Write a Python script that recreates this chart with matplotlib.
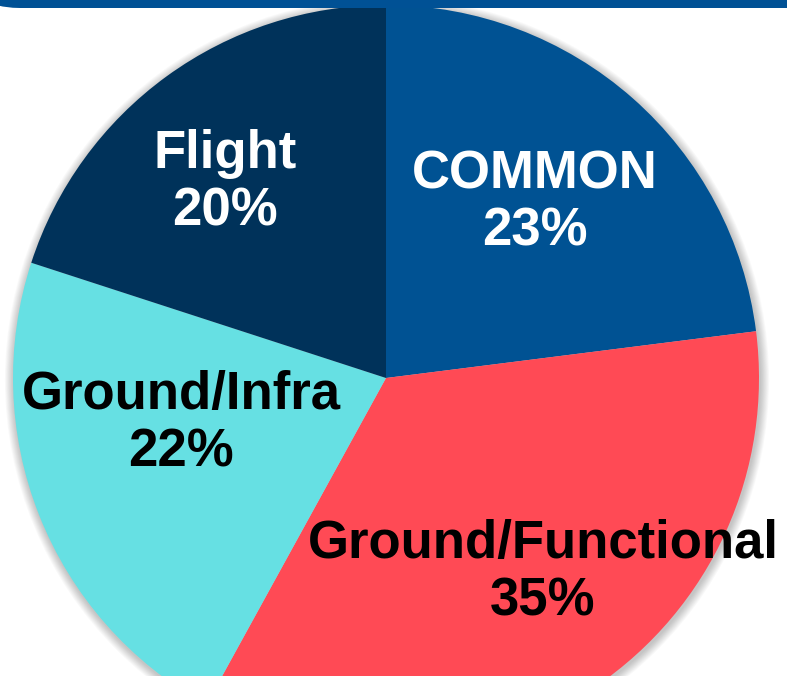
import numpy as np
import matplotlib.pyplot as plt
from matplotlib.patches import Circle, FancyBboxPatch

plt.rcParams['font.family'] = ['Liberation Sans', 'DejaVu Sans']

labels = ['COMMON', 'Ground/Functional', 'Ground/Infra', 'Flight']
shares = [23, 35, 22, 20]
colors = ['#005293', '#FF4A55', '#66E0E3', '#00325A']
text_colors = ['white', 'black', 'black', 'white']
# label centres in pixel coordinates (x, y from top)
label_pos = [(535, 203), (543, 573), (181, 424), (225, 183)]

W, H = 787, 676
fig = plt.figure(figsize=(W / 100, H / 100), dpi=100)
ax = fig.add_axes([0, 0, 1, 1])

cx, cy, r = 386, H - 378, 373

# soft shadow
for i in range(10):
    ax.add_patch(Circle((cx + 1, cy - 2), r + 1 + i * 0.9, color='black',
                        alpha=0.025, lw=0, zorder=0))

ax.pie(shares, colors=colors, startangle=90, counterclock=False,
       center=(cx, cy), radius=r, frame=True,
       wedgeprops=dict(linewidth=0))
ax.set_xlim(0, W)
ax.set_ylim(0, H)
ax.set_aspect('equal')
ax.axis('off')

for lab, s, c, (x, y) in zip(labels, shares, text_colors, label_pos):
    ax.text(x, H - y, f'{lab}\n{s}%', ha='center', va='center', color=c,
            fontsize=38, fontweight='bold', linespacing=1.2, zorder=5)

# top banner
ax.add_patch(FancyBboxPatch((-40, H - 8), 40 + 850, 160,
                            boxstyle='round,pad=0,rounding_size=60',
                            fc='#005195', ec='none', zorder=6,
                            mutation_aspect=1))

fig.savefig('out.png', dpi=100)
